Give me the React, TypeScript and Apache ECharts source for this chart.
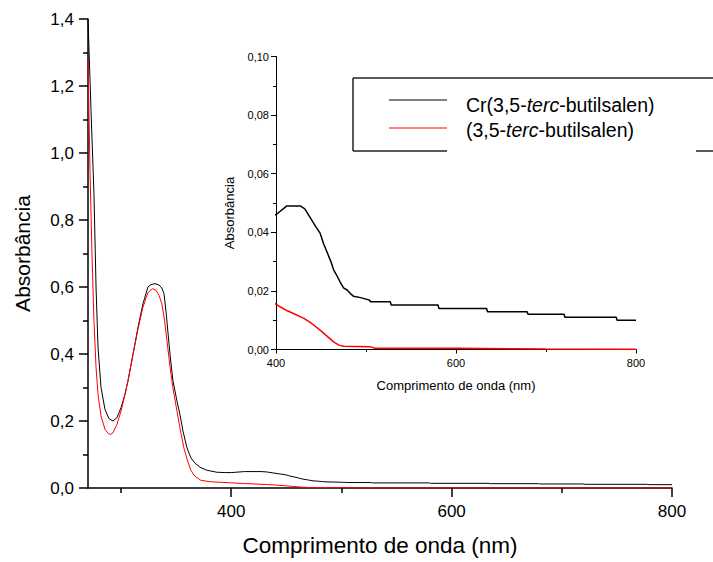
import React, { useEffect, useRef } from "react";
import * as echarts from "echarts";

// Cr(3,5-terc-butilsalen)
const crWavelength = [
  270, 272.7, 275.4, 277.3, 279.1, 281.8, 285.4, 289, 292.7, 296.3, 300, 303.6, 306.3, 310.9,
  315.4, 319.9, 324.4, 327.1, 330.8, 334.4, 337, 339, 341, 344.4, 347.1, 350.7, 353.4, 356.2,
  359.8, 363.4, 367.1, 371.6, 377.9, 387, 395, 400, 404, 408, 412, 427, 432, 438, 444, 449,
  453, 457, 461, 464, 468, 471, 475, 479, 483, 486, 494, 501, 504, 505, 527, 528, 580, 581,
  634, 635, 679, 680, 720, 721, 778, 779, 800,
];
const crAbsorbance = [
  1.4, 1.13, 0.88, 0.6, 0.42, 0.3, 0.235, 0.207, 0.2, 0.21, 0.24, 0.28, 0.32, 0.4,
  0.48, 0.55, 0.6, 0.607, 0.61, 0.606, 0.597, 0.58, 0.52, 0.4, 0.32, 0.26, 0.22, 0.17,
  0.12, 0.09, 0.074, 0.062, 0.053, 0.047, 0.046, 0.046, 0.047, 0.048, 0.049, 0.049, 0.048, 0.045, 0.042, 0.0397,
  0.036, 0.033, 0.03, 0.0272, 0.025, 0.0232, 0.021, 0.0203, 0.019, 0.0182, 0.0177, 0.0171, 0.0168, 0.0163, 0.0163, 0.0152, 0.0152, 0.014,
  0.014, 0.0129, 0.0129, 0.012, 0.012, 0.011, 0.011, 0.01, 0.01,
];

// (3,5-terc-butilsalen)
const ligWavelength = [
  270, 271.8, 273.6, 275.4, 277.3, 279.1, 281.8, 285.4, 288.5, 290.5, 292.7, 296.3, 300, 303.6,
  306.3, 310.9, 315.4, 319.9, 324.4, 328.3, 331.7, 334.5, 337, 339.5, 342, 344.5, 347, 350.7,
  353.4, 357, 360, 363.3, 367, 372.4, 380, 390, 400, 405, 412, 420, 431, 440, 449, 457, 464,
  470, 475, 490, 505, 510, 600, 700, 800,
];
const ligAbsorbance = [
  1.28, 0.95, 0.7, 0.5, 0.36, 0.28, 0.215, 0.175, 0.162, 0.16, 0.165, 0.19, 0.23, 0.28,
  0.32, 0.4, 0.475, 0.54, 0.583, 0.595, 0.59, 0.575, 0.55, 0.5, 0.43, 0.36, 0.3, 0.23,
  0.18, 0.12, 0.085, 0.053, 0.035, 0.023, 0.019, 0.017, 0.0155, 0.0145, 0.0133, 0.0122, 0.0106, 0.0088, 0.0066, 0.0045, 0.0026,
  0.0015, 0.0011, 0.001, 0.0009, 0.0004, 0.0004, 0.0002, 0.0001,
];

const mainXMajor = [400, 600, 800];
const mainXMinor = [300, 500, 700];
const seriesNames = ["Cr(3,5-terc-butilsalen)", "(3,5-terc-butilsalen)"];
const xTitle = "Comprimento de onda (nm)";
const yTitle = "Absorbância";

const FONT = "'Liberation Sans', Arial, sans-serif";
const fmt1 = (v: number) => v.toFixed(1).replace(".", ",");
const fmt2 = (v: number) => v.toFixed(2).replace(".", ",");

export default function App() {
  const ref = useRef<HTMLDivElement>(null);
  useEffect(() => {
    const chart = echarts.init(ref.current!, null, { renderer: "svg" });
    const cr = crWavelength.map((w, i) => [w, crAbsorbance[i]]);
    const lig = ligWavelength.map((w, i) => [w, ligAbsorbance[i]]);
    const black = "#000";
    const legendText = (name: string) => name.replace("terc", "{i|terc}");
    const legendFont = 19.5;

    chart.setOption({
      animation: false,
      textStyle: { fontFamily: FONT, color: black },
      grid: [
        { left: 88, top: 19, width: 584, height: 469 },
        { left: 276, top: 56.5, width: 360, height: 293 },
      ],
      xAxis: [
        {
          gridIndex: 0, type: "value", min: 270, max: 800,
          axisLine: { lineStyle: { color: black, width: 1.5 } },
          axisTick: { customValues: mainXMajor, length: 9, lineStyle: { color: black, width: 1.5 } },
          axisLabel: { customValues: mainXMajor, fontSize: 17, color: black, margin: 15, fontFamily: FONT },
          splitLine: { show: false },
          name: xTitle, nameLocation: "middle", nameGap: 46,
          nameTextStyle: { fontSize: 22.5, color: black, fontFamily: FONT },
        },
        {
          gridIndex: 0, type: "value", min: 270, max: 800, position: "bottom",
          axisLine: { show: false },
          axisTick: { customValues: mainXMinor, length: 5, lineStyle: { color: black, width: 1.5 } },
          axisLabel: { show: false },
          splitLine: { show: false },
        },
        {
          gridIndex: 1, type: "value", min: 400, max: 800, interval: 200,
          axisLine: { lineStyle: { color: black, width: 1 } },
          axisTick: { length: 4, lineStyle: { color: black } },
          minorTick: { show: true, splitNumber: 2, length: 2.5, lineStyle: { color: black } },
          axisLabel: { fontSize: 11, color: black, margin: 8, fontFamily: FONT },
          splitLine: { show: false },
          name: xTitle, nameLocation: "middle", nameGap: 29,
          nameTextStyle: { fontSize: 13, color: black, fontFamily: FONT },
        },
      ],
      yAxis: [
        {
          gridIndex: 0, type: "value", min: 0, max: 1.4, interval: 0.2,
          axisLine: { show: true, lineStyle: { color: black, width: 1.5 } },
          axisTick: { show: true, length: 9, lineStyle: { color: black, width: 1.5 } },
          minorTick: { show: true, splitNumber: 2, length: 5, lineStyle: { color: black, width: 1.5 } },
          axisLabel: { fontSize: 17, color: black, margin: 14, formatter: fmt1, fontFamily: FONT },
          splitLine: { show: false },
          name: yTitle, nameLocation: "middle", nameGap: 55,
          nameTextStyle: { fontSize: 21, color: black, fontFamily: FONT },
        },
        {
          gridIndex: 1, type: "value", min: 0, max: 0.1, interval: 0.02,
          axisLine: { show: true, lineStyle: { color: black, width: 1 } },
          axisTick: { show: true, length: 5, lineStyle: { color: black } },
          minorTick: { show: true, splitNumber: 2, length: 3, lineStyle: { color: black } },
          axisLabel: { fontSize: 11, color: black, margin: 7, formatter: fmt2, fontFamily: FONT },
          splitLine: { show: false },
          name: yTitle, nameLocation: "middle", nameGap: 40,
          nameTextStyle: { fontSize: 13, color: black, fontFamily: FONT, padding: [0, 20, 0, 0] },
        },
      ],
      series: [
        { name: seriesNames[0], type: "line", xAxisIndex: 0, yAxisIndex: 0, data: cr, showSymbol: false, lineStyle: { color: black, width: 1 }, itemStyle: { color: black } },
        { name: seriesNames[1], type: "line", xAxisIndex: 0, yAxisIndex: 0, data: lig, showSymbol: false, lineStyle: { color: "#ff0000", width: 1 }, itemStyle: { color: "#ff0000" } },
        { name: seriesNames[0], type: "line", xAxisIndex: 2, yAxisIndex: 1, data: cr, showSymbol: false, clip: true, lineStyle: { color: black, width: 1.5 }, itemStyle: { color: black } },
        { name: seriesNames[1], type: "line", xAxisIndex: 2, yAxisIndex: 1, data: lig, showSymbol: false, clip: true, lineStyle: { color: "#ff0000", width: 1.5 }, itemStyle: { color: "#ff0000" } },
      ],
      graphic: [
        { type: "line", shape: { x1: 353, y1: 78, x2: 713, y2: 78 }, style: { stroke: "#222", lineWidth: 1.5 } },
        { type: "line", shape: { x1: 353, y1: 78, x2: 353, y2: 151 }, style: { stroke: "#222", lineWidth: 1.5 } },
        { type: "line", shape: { x1: 353, y1: 151, x2: 447, y2: 151 }, style: { stroke: "#222", lineWidth: 1.5 } },
        { type: "line", shape: { x1: 696, y1: 151, x2: 713, y2: 151 }, style: { stroke: "#222", lineWidth: 1.5 } },
        { type: "line", shape: { x1: 389, y1: 100, x2: 447, y2: 100 }, style: { stroke: black, lineWidth: 1 } },
        { type: "line", shape: { x1: 389, y1: 128, x2: 447, y2: 128 }, style: { stroke: "#ff0000", lineWidth: 1 } },
        {
          type: "text", x: 466, y: 105,
          style: {
            text: legendText(seriesNames[0]), fontSize: legendFont, fontFamily: FONT, fill: black, verticalAlign: "middle",
            rich: { i: { fontStyle: "italic", fontSize: legendFont, fontFamily: FONT, fill: black } },
          },
        },
        {
          type: "text", x: 466, y: 130,
          style: {
            text: legendText(seriesNames[1]), fontSize: legendFont, fontFamily: FONT, fill: black, verticalAlign: "middle",
            rich: { i: { fontStyle: "italic", fontSize: legendFont, fontFamily: FONT, fill: black } },
          },
        },
      ],
    });
    return () => chart.dispose();
  }, []);
  return <div ref={ref} style={{ position: "absolute", left: 0, top: 0, width: 713, height: 562, background: "#fff" }} />;
}
